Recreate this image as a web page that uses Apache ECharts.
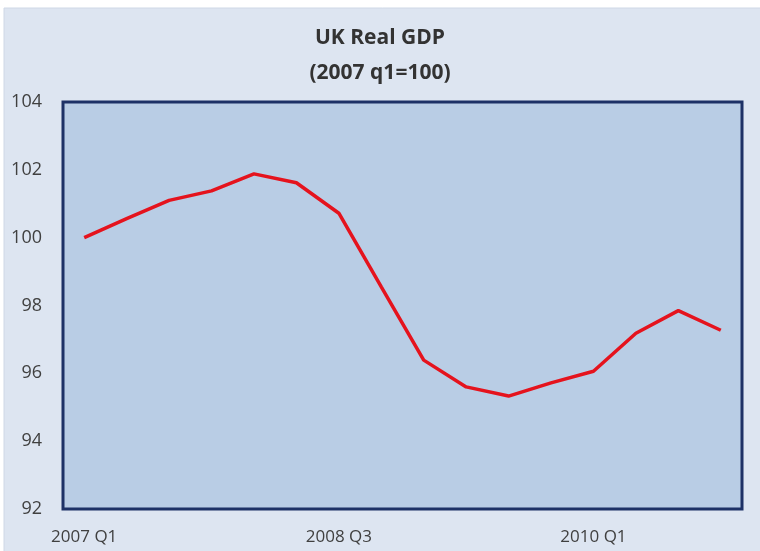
<!DOCTYPE html>
<html>
<head>
<meta charset="utf-8">
<script src="https://cdn.jsdelivr.net/npm/echarts@6/dist/echarts.min.js"></script>
<style>
  html, body { margin: 0; padding: 0; background: #ffffff; }
  #chart { width: 760px; height: 551px; }
</style>
</head>
<body>
<div id="chart"></div>
<script>
// quarters 2007 Q1 .. 2010 Q4
const quarters = [
  "2007 Q1", "2007 Q2", "2007 Q3", "2007 Q4",
  "2008 Q1", "2008 Q2", "2008 Q3", "2008 Q4",
  "2009 Q1", "2009 Q2", "2009 Q3", "2009 Q4",
  "2010 Q1", "2010 Q2", "2010 Q3", "2010 Q4"
]
const gdpIndex = [
  100.0, 100.56, 101.1, 101.38, 101.88, 101.62, 100.72, 98.55,
  96.39, 95.6, 95.33, 95.72, 96.06, 97.18, 97.85, 97.27
]
const yTicks = { min: 92, max: 104, step: 2 }

const chart = echarts.init(document.getElementById("chart"))

const option = {
  backgroundColor: "#ffffff",
  animation: false,
  graphic: [
    {
      type: "rect",
      z: -10,
      shape: { x: 4, y: 8, width: 760, height: 551 },
      style: { fill: "#dde5f1", stroke: "#cfd8e6", lineWidth: 1 },
    },
  ],
  title: {
    text: "UK Real GDP\n(2007 q1=100)",
    left: "center",
    top: 16,
    textStyle: {
      fontFamily: "Open Sans",
      fontSize: 21,
      fontWeight: "bold",
      color: "#333333",
      lineHeight: 35,
    },
  },
  grid: {
    left: 63,
    right: 18,
    top: 102,
    bottom: 42,
    show: true,
    backgroundColor: "#b9cde5",
    borderColor: "#1d3166",
    borderWidth: 3,
  },
  xAxis: {
    type: "category",
    data: quarters,
    boundaryGap: true,
    axisLine: { show: false },
    axisTick: { show: false },
    axisLabel: {
      interval: 5,
      margin: 20,
      fontFamily: "Open Sans",
      fontSize: 17,
      color: "#404040",
    },
  },
  yAxis: {
    type: "value",
    min: yTicks.min,
    max: yTicks.max,
    interval: yTicks.step,
    axisLine: { show: false },
    axisTick: { show: false },
    splitLine: { show: false },
    axisLabel: {
      margin: 21,
      fontFamily: "Open Sans",
      fontSize: 18,
      color: "#404040",
    },
  },
  series: [
    {
      name: "UK Real GDP",
      type: "line",
      data: gdpIndex,
      showSymbol: false,
      lineStyle: { color: "#e5131d", width: 3.5 },
    },
  ],
}

chart.setOption(option)
</script>
</body>
</html>
